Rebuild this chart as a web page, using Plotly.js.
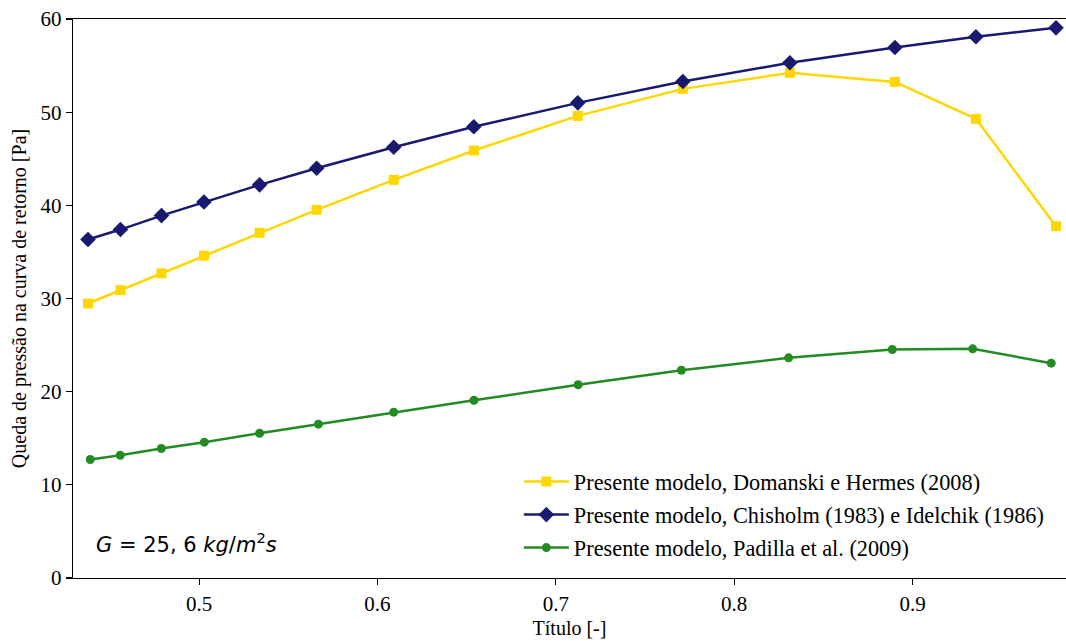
<!DOCTYPE html>
<html>
<head>
<meta charset="utf-8">
<script src="https://cdn.plot.ly/plotly-3.0.1.min.js"></script>
<style>html,body{margin:0;padding:0;background:#fff;}#chart{width:1066px;height:641px;}</style>
</head>
<body>
<div id="chart"></div>
<script>
const titulo = [0.4377, 0.4559, 0.4789, 0.5027, 0.5339, 0.5659, 0.6091, 0.6540, 0.7123, 0.7712, 0.8312, 0.8901, 0.9355, 0.9804];
const tituloPadilla = [0.4390, 0.4558, 0.4788, 0.5029, 0.5339, 0.5669, 0.6091, 0.6541, 0.7125, 0.7704, 0.8305, 0.8886, 0.9337, 0.9777];
const domanski = [29.46, 30.9, 32.7, 34.6, 37.05, 39.52, 42.74, 45.88, 49.6, 52.5, 54.22, 53.25, 49.28, 37.76];
const chisholm = [36.33, 37.4, 38.9, 40.35, 42.2, 43.98, 46.24, 48.43, 51.0, 53.29, 55.3, 56.94, 58.09, 59.05];
const padilla = [12.72, 13.18, 13.9, 14.58, 15.54, 16.51, 17.8, 19.08, 20.74, 22.3, 23.63, 24.53, 24.6, 23.06];
const names = [
  "Presente modelo, Domanski e Hermes (2008)",
  "Presente modelo, Chisholm (1983) e Idelchik (1986)",
  "Presente modelo, Padilla et al. (2009)"
];
const xTicks = [0.5, 0.6, 0.7, 0.8, 0.9];
const yTicks = [0, 10, 20, 30, 40, 50, 60];

const serif = "Liberation Serif";
const traces = [
  {x: titulo, y: domanski, name: names[0], mode: "lines+markers", legendgroup: "a",
   line: {color: "#FFD700", width: 2.5}, marker: {symbol: "square", size: 10, color: "#FFD700"}},
  {x: titulo, y: chisholm, name: names[1], mode: "lines+markers", legendgroup: "b",
   line: {color: "#191970", width: 2.5}, marker: {symbol: "diamond", size: 12, color: "#191970"}},
  {x: tituloPadilla, y: padilla, name: names[2], mode: "lines+markers", legendgroup: "c",
   line: {color: "#228B22", width: 2.5}, marker: {symbol: "circle", size: 9, color: "#228B22"}}
];
const layout = {
  width: 1066, height: 641,
  margin: {l: 73, r: 0, t: 19, b: 63},
  paper_bgcolor: "#fff", plot_bgcolor: "#fff",
  font: {family: serif, size: 20, color: "#000"},
  showlegend: true,
  legend: {x: 0.449, y: 0.21, xanchor: "left", yanchor: "top", bgcolor: "rgba(0,0,0,0)",
           itemwidth: 45,
           font: {family: serif, size: 22.3, color: "#000"}, tracegroupgap: 1},
  xaxis: {range: [0.4293, 0.986], tickvals: xTicks, ticktext: xTicks.map(String),
          showgrid: false, zeroline: false, showline: true, linecolor: "#000", linewidth: 1.3,
          mirror: true, ticks: "outside", ticklen: 6, tickwidth: 1.2, tickcolor: "#000",
          tickfont: {family: serif, size: 21, color: "#000"},
          title: {text: "Título [-]", font: {family: serif, size: 20, color: "#000"}, standoff: 6}},
  yaxis: {range: [0, 60], tickvals: yTicks, showgrid: false, zeroline: false, showline: true,
          linecolor: "#000", linewidth: 1.3, ticks: "outside", ticklen: 6, tickwidth: 1.2, tickcolor: "#000",
          tickfont: {family: serif, size: 21, color: "#000"},
          title: {text: "Queda de pressão na curva de retorno [Pa]", font: {family: serif, size: 20, color: "#000"}, standoff: 8}},
  annotations: [{
    xref: "paper", yref: "paper", x: 0.021, y: 0.062, xanchor: "left", yanchor: "middle",
    text: "<i>G</i> = 25, 6 <i>kg</i>/<i>m</i><sup>2</sup><i>s</i>", showarrow: false,
    font: {family: "DejaVu Sans", size: 21, color: "#000"}
  }]
};
Plotly.newPlot("chart", traces, layout, {displayModeBar: false, staticPlot: true});
</script>
</body>
</html>
